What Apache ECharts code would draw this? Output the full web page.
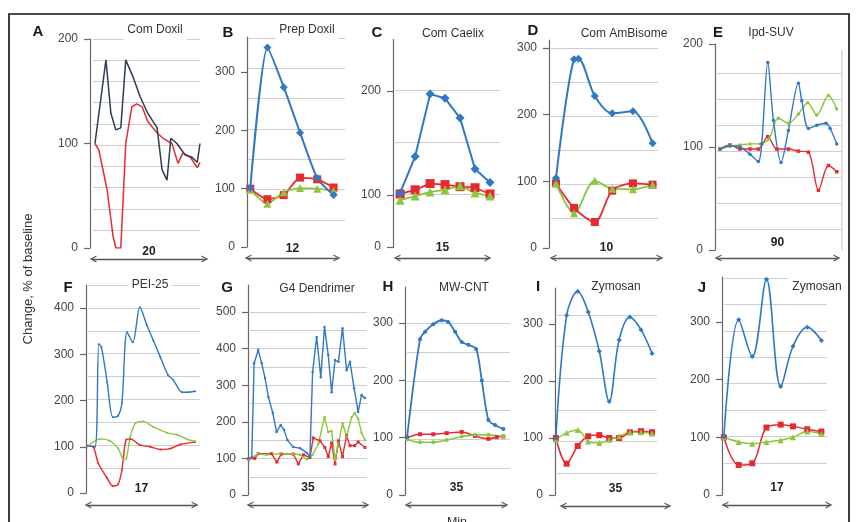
<!DOCTYPE html>
<html><head><meta charset="utf-8">
<script src="https://cdn.jsdelivr.net/npm/echarts@6/dist/echarts.min.js"></script>
<style>html,body{margin:0;padding:0;background:#fff}#c{width:861px;height:522px}</style>
</head><body><div id="c"></div>
<script>
// ---------- DATA (x = minutes, y = % of baseline) ----------
const aNavy = [[0.9,100],[2.9,180],[3.8,129],[4.7,113],[5.6,115],[6.5,180],[7.8,164],[9.1,145],[10.5,129],[12.2,115],[13.1,75],[14.0,65],[14.7,105],[15.8,100],[17.3,89],[18.5,87],[19.5,82],[20,100]];
const aRed  = [[0.9,100],[1.6,94],[3.1,56],[4.2,11],[4.7,0],[5.6,0],[6.5,100],[7.6,135],[8.5,138],[9.5,135],[10.5,121],[12.2,110],[13.3,105],[14.9,100],[16.0,81],[16.9,91],[18.2,87],[19.5,77],[20,82]];

const bX = [0.4,2.5,4.5,6.5,8.6,10.6];
const bBlue  = [101,342,274,196,118,89];
const bRed   = [100,82,89,119,116,102];
const bGreen = [98,74,94,101,100,96];

const cX = [1.0,3.1,5.2,7.3,9.4,11.5,13.6];
const cBlue  = [102,137,197,193,174,125,112];
const cRed   = [101,105,111,110,108,107,101];
const cGreen = [95,99,103,105,109,102,99];

const dBlue  = [[0.64,105],[2.3,283],[2.7,284],[4.2,228],[5.8,202],[7.7,205],[9.5,157]];
const dX = [0.64,2.3,4.2,5.8,7.7,9.5];
const dRed   = [97,60,39,86,97,95];
const dGreen = [97,52,101,89,88,95];

const eBlue  = [[3.5,98],[10.6,101],[17.7,100],[24.8,93],[30.7,86],[33.1,103],[37.4,182],[41.4,126],[46.8,85],[52.0,116],[59.1,162],[61.5,145],[66.2,118],[72.1,121],[78.7,123],[81.6,118],[86.3,103]];
const eRed   = [[3.5,98],[10.6,102],[17.7,98],[24.8,98],[30.7,98],[37.4,110],[43.8,98],[52.0,98],[59.1,96],[66.2,95],[73.3,58],[80.4,82],[86.3,76]];
const eGreen = [[3.5,98],[10.6,101],[17.7,102],[24.8,103],[31.9,103],[38.3,108],[44.9,128],[52.0,123],[59.1,132],[65.7,143],[72.1,131],[80.4,150],[86.3,137]];

const fBlue  = [[0.2,102],[1.4,100],[2.0,322],[2.4,316],[3.3,240],[4.2,164],[5.0,167],[5.6,195],[6.4,348],[7.3,326],[8.4,402],[9.5,363],[10.5,330],[11.6,294],[12.8,255],[13.6,245],[15.0,218],[15.9,218],[17.0,220]];
const fRed   = [[0.2,102],[1.1,100],[1.9,65],[3.3,32],[4.2,15],[5.0,19],[5.6,50],[6.25,115],[6.9,117],[8.4,104],[10.0,100],[11.6,94],[13.1,96],[14.7,105],[17.0,110]];
const fGreen = [[0.2,100],[2.2,117],[3.75,113],[5.0,97],[5.9,72],[6.3,75],[6.9,121],[7.7,151],[8.9,155],[10.5,143],[12.7,130],[14.2,126],[15.8,116],[17.0,112]];

const gBlue  = [[0.1,100],[1.1,103],[1.8,360],[3.0,396],[4.0,361],[5.0,320],[6.0,268],[7.3,224],[8.4,172],[9.6,191],[10.6,178],[11.6,150],[13.3,131],[15.3,128],[17.3,115],[18.2,104],[19.0,336],[20.2,432],[21.4,322],[22.5,459],[23.6,383],[24.6,281],[25.6,369],[26.6,364],[27.8,456],[29.0,341],[30.0,364],[31.2,292],[32.4,227],[33.4,273],[34.4,265]];
const gGreen = [[0.1,98],[3.0,112],[5.5,110],[9.4,113],[13.3,112],[15.3,110],[17.3,98],[19.0,110],[20.7,140],[22.5,213],[23.6,172],[24.6,175],[25.6,96],[26.4,131],[27.8,196],[29.0,160],[30.5,213],[31.4,224],[32.4,209],[33.4,170],[34.4,150]];
const gRed   = [[0.1,98],[2.0,100],[3.0,113],[6.9,113],[8.5,90],[9.8,112],[13.3,112],[14.8,85],[16.3,110],[18.2,102],[19.2,156],[21.2,148],[22.6,130],[23.6,105],[24.6,142],[25.6,85],[26.6,148],[27.8,105],[29.0,162],[30.0,135],[31.4,135],[32.4,145],[34.4,130]];

const hBlue  = [[0.7,101],[5.0,272],[6.7,285],[9.4,298],[12.2,305],[14.4,302],[16.7,285],[18.9,267],[21.1,262],[23.7,255],[25.6,200],[27.8,131],[30.0,122],[32.8,115]];
const hRed   = [[0.7,100],[5.0,106],[9.4,106],[13.9,108],[18.9,110],[23.3,103],[27.8,98],[30.6,101],[32.8,102]];
const hGreen = [[0.7,97],[5.0,92],[9.4,92],[13.9,96],[18.9,102],[23.3,105],[27.8,105],[32.8,102]];

const iX = [0.3,4.0,7.8,11.4,15.2,18.6,22.0,25.7,29.5,33.3];
const iBlue  = [100,315,357,321,252,164,272,312,290,248];
const iRed   = [100,55,86,103,105,100,100,110,112,110];
const iGreen = [97,109,114,94,91,97,103,110,110,108];

const jX = [0.3,2.7,4.9,7.2,9.5,11.5,13.8,16.1];
const jBlue  = [101,304,240,374,188,258,291,268];
const jRed   = [100,52,55,117,122,119,114,110];
const jGreen = [100,92,89,92,95,100,110,106];

const letters = ['A','B','C','D','E','F','G','H','I','J'];
const titles  = ['Com Doxil','Prep Doxil','Com Caelix','Com AmBisome','Ipd-SUV','PEI-25','G4 Dendrimer','MW-CNT','Zymosan','Zymosan'];
const spans   = ['20','12','15','10','90','17','35','35','35','17'];
const yLabelsTop = [[0,100,200],[0,100,200,300],[0,100,200],[0,100,200,300],[0,100,200]];
const yLabelsBot = [[0,100,200,300,400],[0,100,200,300,400,500],[0,100,200,300],[0,100,200,300],[0,100,200,300]];

// ---------- STYLE / LAYOUT ----------
const BLUE='#2f78c5', RED='#e62a2f', GREEN='#8cc63f', NAVY='#2b3c58';
const zip = (xs, ys) => xs.map((x,i)=>[x, ys[i]]);
const chev = 'path://M0,10 L5,0 L10,10 L8.1,10 L5,3.8 L1.9,10 Z';

function S(data, color, symbol, size, smooth, width){ return {data, color, symbol, size, smooth, width}; }

const panels = [
 {xMax:20, left:90, width:110, y0:248, top:39, yMax:200, g:[93,200,39,230,9], arrow:[93,205,259], gap:-7, L:[38,32], T:[155,30],
  series:[S(aRed,RED,'none',0,false,1.5), S(aNavy,NAVY,'none',0,false,1.5)]},
 {xMax:12, left:247, width:98, y0:247, top:37, yMax:360, g:[248,345,38,220,6], arrow:[248,337,258], gap:-9, L:[228,33], T:[307,30],
  series:[S(zip(bX,bRed),RED,'rect',8,0.2,1.8), S(zip(bX,bGreen),GREEN,'triangle',8,0.2,1.8), S(zip(bX,bBlue),BLUE,'diamond',8,0.2,2)]},
 {xMax:15, left:393, width:107, y0:247, top:39, yMax:250, brk:true, g:[395,500,90,194,2], arrow:[397,488,258], gap:-10, L:[377,33], T:[453,34],
  series:[S(zip(cX,cRed),RED,'rect',9,false,1.8), S(zip(cX,cGreen),GREEN,'triangle',9,false,1.8), S(zip(cX,cBlue),BLUE,'diamond',9,false,2)]},
 {xMax:10, left:549, width:109, y0:248, top:40, yMax:312, g:[551,658,48,218,5], arrow:[553,660,258], gap:-10, L:[533,31], T:[624,34],
  series:[S(zip(dX,dRed),RED,'rect',8,0.3,1.8), S(zip(dX,dGreen),GREEN,'triangle',8,0.3,1.8), S(dBlue,BLUE,'diamond',8,0.3,2)]},
 {xMax:90, left:715, width:127, y0:250, top:44, yMax:200, g:[717,842,73,229,6], arrow:[718,837,258], gap:-15, L:[718,33], T:[771,33],
  series:[S(eRed,RED,'rect',3.5,0.3,1.4), S(eGreen,GREEN,'circle',3.5,0.3,1.4), S(eBlue,BLUE,'circle',3.5,0.3,1.4)]},
 {xMax:17, left:86, width:109, y0:493, top:285, yMax:450, g:[88,200,285,468,8], arrow:[88,195,505], gap:-16, L:[68,288], T:[150,285],
  series:[S(fRed,RED,'circle',2,0.3,1.4), S(fGreen,GREEN,'circle',2,0.3,1.4), S(fBlue,BLUE,'circle',2,0.3,1.4)]},
 {xMax:35, left:248, width:119, y0:495, top:285, yMax:574, g:[250,367,312,477,9], arrow:[250,366,505], gap:-17, L:[227,288], T:[317,289],
  series:[S(gRed,RED,'rect',3,false,1.4), S(gGreen,GREEN,'circle',2.5,false,1.4), S(gBlue,BLUE,'circle',2.5,false,1.4)]},
 {xMax:35, left:405, width:105, y0:495, top:287, yMax:363, g:[407,510,323,468,5], arrow:[408,505,505], gap:-17, L:[388,287], T:[464,288],
  series:[S(hRed,RED,'rect',4,0.3,1.6), S(hGreen,GREEN,'circle',4,0.3,1.6), S(hBlue,BLUE,'circle',4,0.3,1.8)]},
 {xMax:35, left:555, width:102, y0:495, top:288, yMax:363, g:[557,657,315,473,5], arrow:[563,668,506], gap:-17, L:[538,287], T:[616,287],
  series:[S(zip(iX,iRed),RED,'rect',6,0.35,1.5), S(zip(iX,iGreen),GREEN,'triangle',6,0.35,1.5), S(zip(iX,iBlue),BLUE,'diamond',5,0.35,1.6)]},
 {xMax:17, left:722, width:105, y0:495, top:277, yMax:378, g:[724,827,278,463,7], arrow:[725,829,505], gap:-17, L:[702,288], T:[817,287],
  series:[S(zip(jX,jRed),RED,'rect',6,0.35,1.5), S(zip(jX,jGreen),GREEN,'triangle',6,0.35,1.5), S(zip(jX,jBlue),BLUE,'diamond',5,0.35,1.6)]}
];
const yLabels = yLabelsTop.concat(yLabelsBot);

const grids=[], xAxes=[], yAxes=[], series=[], graphics=[];
const FONT = 'Liberation Sans, Arial, sans-serif';

panels.forEach((p, k)=>{
  // gridline layer
  let gi = grids.length;
  grids.push({left:p.g[0], top:p.g[2], width:p.g[1]-p.g[0], height:p.g[3]-p.g[2], outerBoundsMode:'none'});
  xAxes.push({gridIndex:gi, type:'value', min:0, max:1, show:false});
  yAxes.push({gridIndex:gi, type:'value', min:0, max:p.g[4], interval:1,
    axisLine:{show:false}, axisTick:{show:false}, axisLabel:{show:false},
    splitLine:{show:true, lineStyle:{color:'#cfcfcf', width:1.2}}});
  // time-span arrow
  gi = grids.length;
  grids.push({left:p.arrow[0], top:p.arrow[2]-10, width:p.arrow[1]-p.arrow[0], height:10, outerBoundsMode:'none'});
  xAxes.push({gridIndex:gi, type:'value', min:0, max:1, position:'bottom',
    axisLine:{show:true, onZero:false, symbol:[chev,chev], symbolSize:[9,7], lineStyle:{color:'#555', width:1.3}},
    axisTick:{show:false}, axisLabel:{show:false}, splitLine:{show:false},
    name:spans[k], nameLocation:'middle', nameGap:p.gap,
    nameTextStyle:{fontSize:12, fontWeight:'bold', color:'#222', fontFamily:FONT, verticalAlign:'middle'}});
  yAxes.push({gridIndex:gi, type:'value', show:false});
  // main plot
  gi = grids.length;
  grids.push({left:p.left, top:p.top, width:p.width, height:p.y0-p.top, outerBoundsMode:'none'});
  const xi = xAxes.length;
  xAxes.push({gridIndex:gi, type:'value', min:0, max:p.xMax, show:false});
  const yi = yAxes.length;
  const ya = {gridIndex:gi, type:'value', min:0, max:p.yMax,
    axisLine:{show:true, lineStyle:{color:'#666', width:1.2}},
    axisTick:{show:true, length:6, customValues:yLabels[k], lineStyle:{color:'#666', width:1.2}},
    axisLabel:{customValues:yLabels[k], margin:12, fontSize:12, color:'#444', fontFamily:FONT},
    splitLine:{show:false}};
  if (p.brk) { ya.breaks=[{start:0, end:50, gap:0}]; ya.breakArea={show:false}; }
  yAxes.push(ya);
  p.series.forEach(s=>{
    series.push({type:'line', xAxisIndex:xi, yAxisIndex:yi, data:s.data, smooth:s.smooth,
      showSymbol:s.symbol!=='none', symbol:s.symbol==='none'?'circle':s.symbol, symbolSize:s.size,
      lineStyle:{color:s.color, width:s.width}, itemStyle:{color:s.color},
      animation:false, silent:true});
  });
  graphics.push({type:'text', z:1, x:p.L[0], y:p.L[1], style:{text:letters[k], font:'bold 15px '+FONT, fill:'#1a1a1a', align:'center', verticalAlign:'middle'}});
  graphics.push({type:'text', z:1, x:p.T[0], y:p.T[1], style:{text:titles[k], font:'12px '+FONT, fill:'#333', align:'center', verticalAlign:'middle', backgroundColor:'#fff', padding:[5,4]}});
});

graphics.push({type:'line', z:1, shape:{x1:842, y1:50, x2:842, y2:250}, style:{stroke:'#cfcfcf', lineWidth:1.2}});
graphics.push({type:'text', z:1, x:28, y:279, rotation:Math.PI/2, style:{text:'Change, % of baseline', font:'13px '+FONT, fill:'#333', align:'center', verticalAlign:'middle'}});
graphics.push({type:'text', z:1, x:457, y:516, style:{text:'Min', font:'12.5px '+FONT, fill:'#333', align:'center', verticalAlign:'top'}});
graphics.push({type:'rect', z:1, shape:{x:9, y:14, width:840, height:530}, style:{fill:'none', stroke:'#111', lineWidth:1.6}});

const chart = echarts.init(document.getElementById('c'), null, {renderer:'canvas'});
chart.setOption({animation:false, backgroundColor:'#fff', grid:grids, xAxis:xAxes, yAxis:yAxes, series, graphic:{elements:graphics}});
</script></body></html>
